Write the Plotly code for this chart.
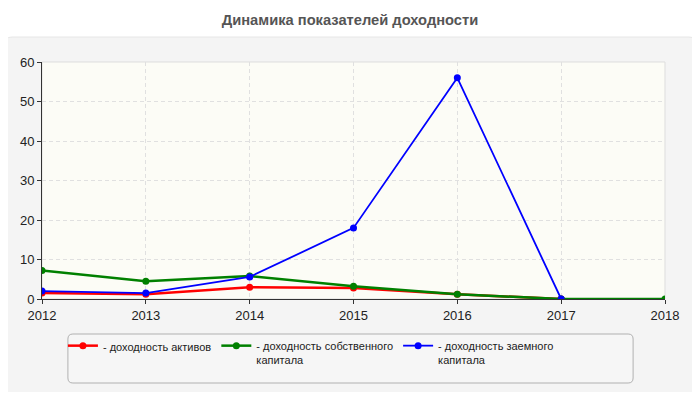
import plotly.graph_objects as go

years = [2012, 2013, 2014, 2015, 2016, 2017, 2018]
assets_roa = [1.5, 1.2, 3.0, 2.8, 1.2, 0.0, None]
equity_roe = [7.2, 4.5, 5.8, 3.2, 1.2, 0.0, 0.0]
borrowed = [2.0, 1.5, 5.6, 18.0, 56.0, 0.0, None]

names = ["- доходность активов",
         "- доходность собственного<br>капитала",
         "- доходность заемного<br>капитала"]
colors = ["#ff0000", "#008000", "#0000ff"]
widths = [2.5, 2.5, 1.8]
series = [assets_roa, equity_roe, borrowed]

# page has an 8px body margin: figure pixel = window pixel - 8
OFF = 8
W, H = 700 - 2 * OFF, 400 - 2 * OFF
L, T = 40 - OFF, 62 - OFF
R, B = W - (665 - OFF), H - (299 - OFF)
PW, PH = W - L - R, H - T - B


def px2paper(x, y):
    # x, y in window pixels
    return (x - OFF - L) / PW, (H - B - (y - OFF)) / PH


def rounded_rect(x0, y0, x1, y1, r):
    rx, ry = r / PW, r / PH
    ax0, ay1 = px2paper(x0, y0)
    ax1, ay0 = px2paper(x1, y1)
    return (f"M {ax0+rx},{ay1} L {ax1-rx},{ay1} Q {ax1},{ay1} {ax1},{ay1-ry} "
            f"L {ax1},{ay0+ry} Q {ax1},{ay0} {ax1-rx},{ay0} "
            f"L {ax0+rx},{ay0} Q {ax0},{ay0} {ax0},{ay0+ry} "
            f"L {ax0},{ay1-ry} Q {ax0},{ay1} {ax0+rx},{ay1} Z")


fig = go.Figure()
for name, col, lw, vals in zip(names, colors, widths, series):
    fig.add_trace(go.Scatter(
        x=years, y=vals, name=name, mode="lines+markers",
        line=dict(color=col, width=lw),
        marker=dict(color=col, size=7),
    ))

shapes = [
    dict(type="path", xref="paper", yref="paper", layer="below",
         path=rounded_rect(2, 37, 697, 397, 8),
         fillcolor="#f4f4f4", line=dict(color="#e6e6e6", width=1)),
    dict(type="path", xref="paper", yref="paper", layer="below",
         path=rounded_rect(66, 334, 633, 383, 5),
         fillcolor="#f6f6f6", line=dict(color="#b0b0b0", width=1)),
    dict(type="rect", xref="paper", yref="paper", layer="below",
         x0=0, x1=1, y0=0, y1=1,
         fillcolor="#fcfcf6", line=dict(color="#dddddd", width=1)),
]

lx, ly = px2paper(61, 332)

fig.update_layout(
    width=W, height=H,
    margin=dict(l=L, r=R, t=T, b=B),
    paper_bgcolor="white",
    plot_bgcolor="rgba(0,0,0,0)",
    font=dict(family="Liberation Sans, Arial, sans-serif", color="#222", size=13),
    title=dict(text="<b>Динамика показателей доходности</b>",
               x=0.5, xanchor="center", y=1 - (20 - OFF) / H, yanchor="middle",
               font=dict(size=14.7, color="#555")),
    shapes=shapes,
    showlegend=True,
    legend=dict(orientation="h", x=lx, xanchor="left",
                y=ly, yanchor="top",
                bgcolor="rgba(0,0,0,0)", borderwidth=0,
                font=dict(size=11, color="#222"), valign="top",
                itemwidth=30),
    xaxis=dict(range=[2012, 2018], tickmode="array", tickvals=years,
               ticktext=[str(y) for y in years],
               showgrid=True, gridcolor="#e0e0e0", griddash="4px,3px",
               showline=True, linecolor="#333", linewidth=1,
               ticks="outside", ticklen=4, tickcolor="#333",
               zeroline=False, fixedrange=True),
    yaxis=dict(range=[0, 60], tickvals=[0, 10, 20, 30, 40, 50, 60],
               showgrid=True, gridcolor="#e0e0e0", griddash="4px,3px",
               showline=True, linecolor="#333", linewidth=1,
               ticks="outside", ticklen=4, tickcolor="#333",
               zeroline=False, fixedrange=True),
)

fig.write_html("out.html")
